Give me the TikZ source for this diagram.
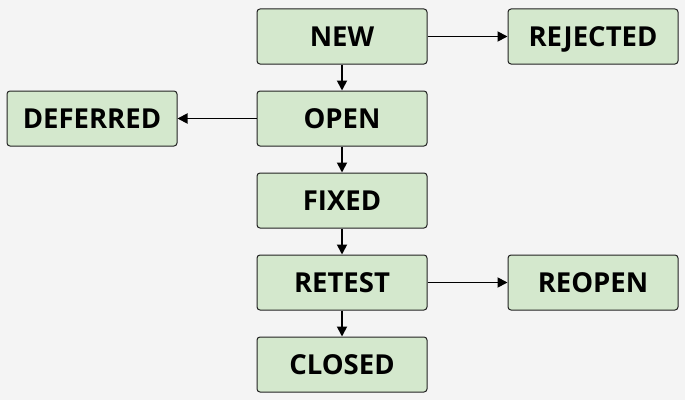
\documentclass[tikz,border=0pt]{standalone}
\usepackage{fontspec}
\setmainfont{Open Sans}
\usetikzlibrary{arrows.meta, positioning}
\definecolor{bgcol}{HTML}{F4F4F4}
\definecolor{boxfill}{HTML}{D4E8CD}
\definecolor{boxline}{HTML}{222222}

\begin{document}
\begin{tikzpicture}[state/.style={rectangle,draw=boxline,fill=boxfill,rounded corners=3pt,line width=1pt,minimum width=170pt,minimum height=55pt,text height=19.5pt,text depth=0pt,font=\fontsize{27.5}{30}\selectfont\bfseries}, ->, >={Triangle[length=10pt,width=10pt]}, line width=1.8pt, node distance=26pt and 80pt]
        \fill[bgcol] (0,0) rectangle (685pt,400pt);
        \useasboundingbox (0,0) rectangle (685pt,400pt);

        \node[state] (new) at (342pt,363.5pt) {NEW};
        \node[state, right=of new] (rejected) {REJECTED};
        \node[state, below=of new] (open) {OPEN};
        \node[state, left=79pt of open] (deferred) {DEFERRED};
        \node[state, below=of open] (fixed) {FIXED};
        \node[state, below=of fixed] (retest) {RETEST};
        \node[state, right=of retest] (reopen) {REOPEN};
        \node[state, below=of retest] (closed) {CLOSED};

        \draw (new) -- (rejected);
        \draw (new) -- (open);
        \draw (open) -- (deferred);
        \draw (open) -- (fixed);
        \draw (fixed) -- (retest);
        \draw (retest) -- (reopen);
        \draw (retest) -- (closed);
    \end{tikzpicture}
\end{document}
